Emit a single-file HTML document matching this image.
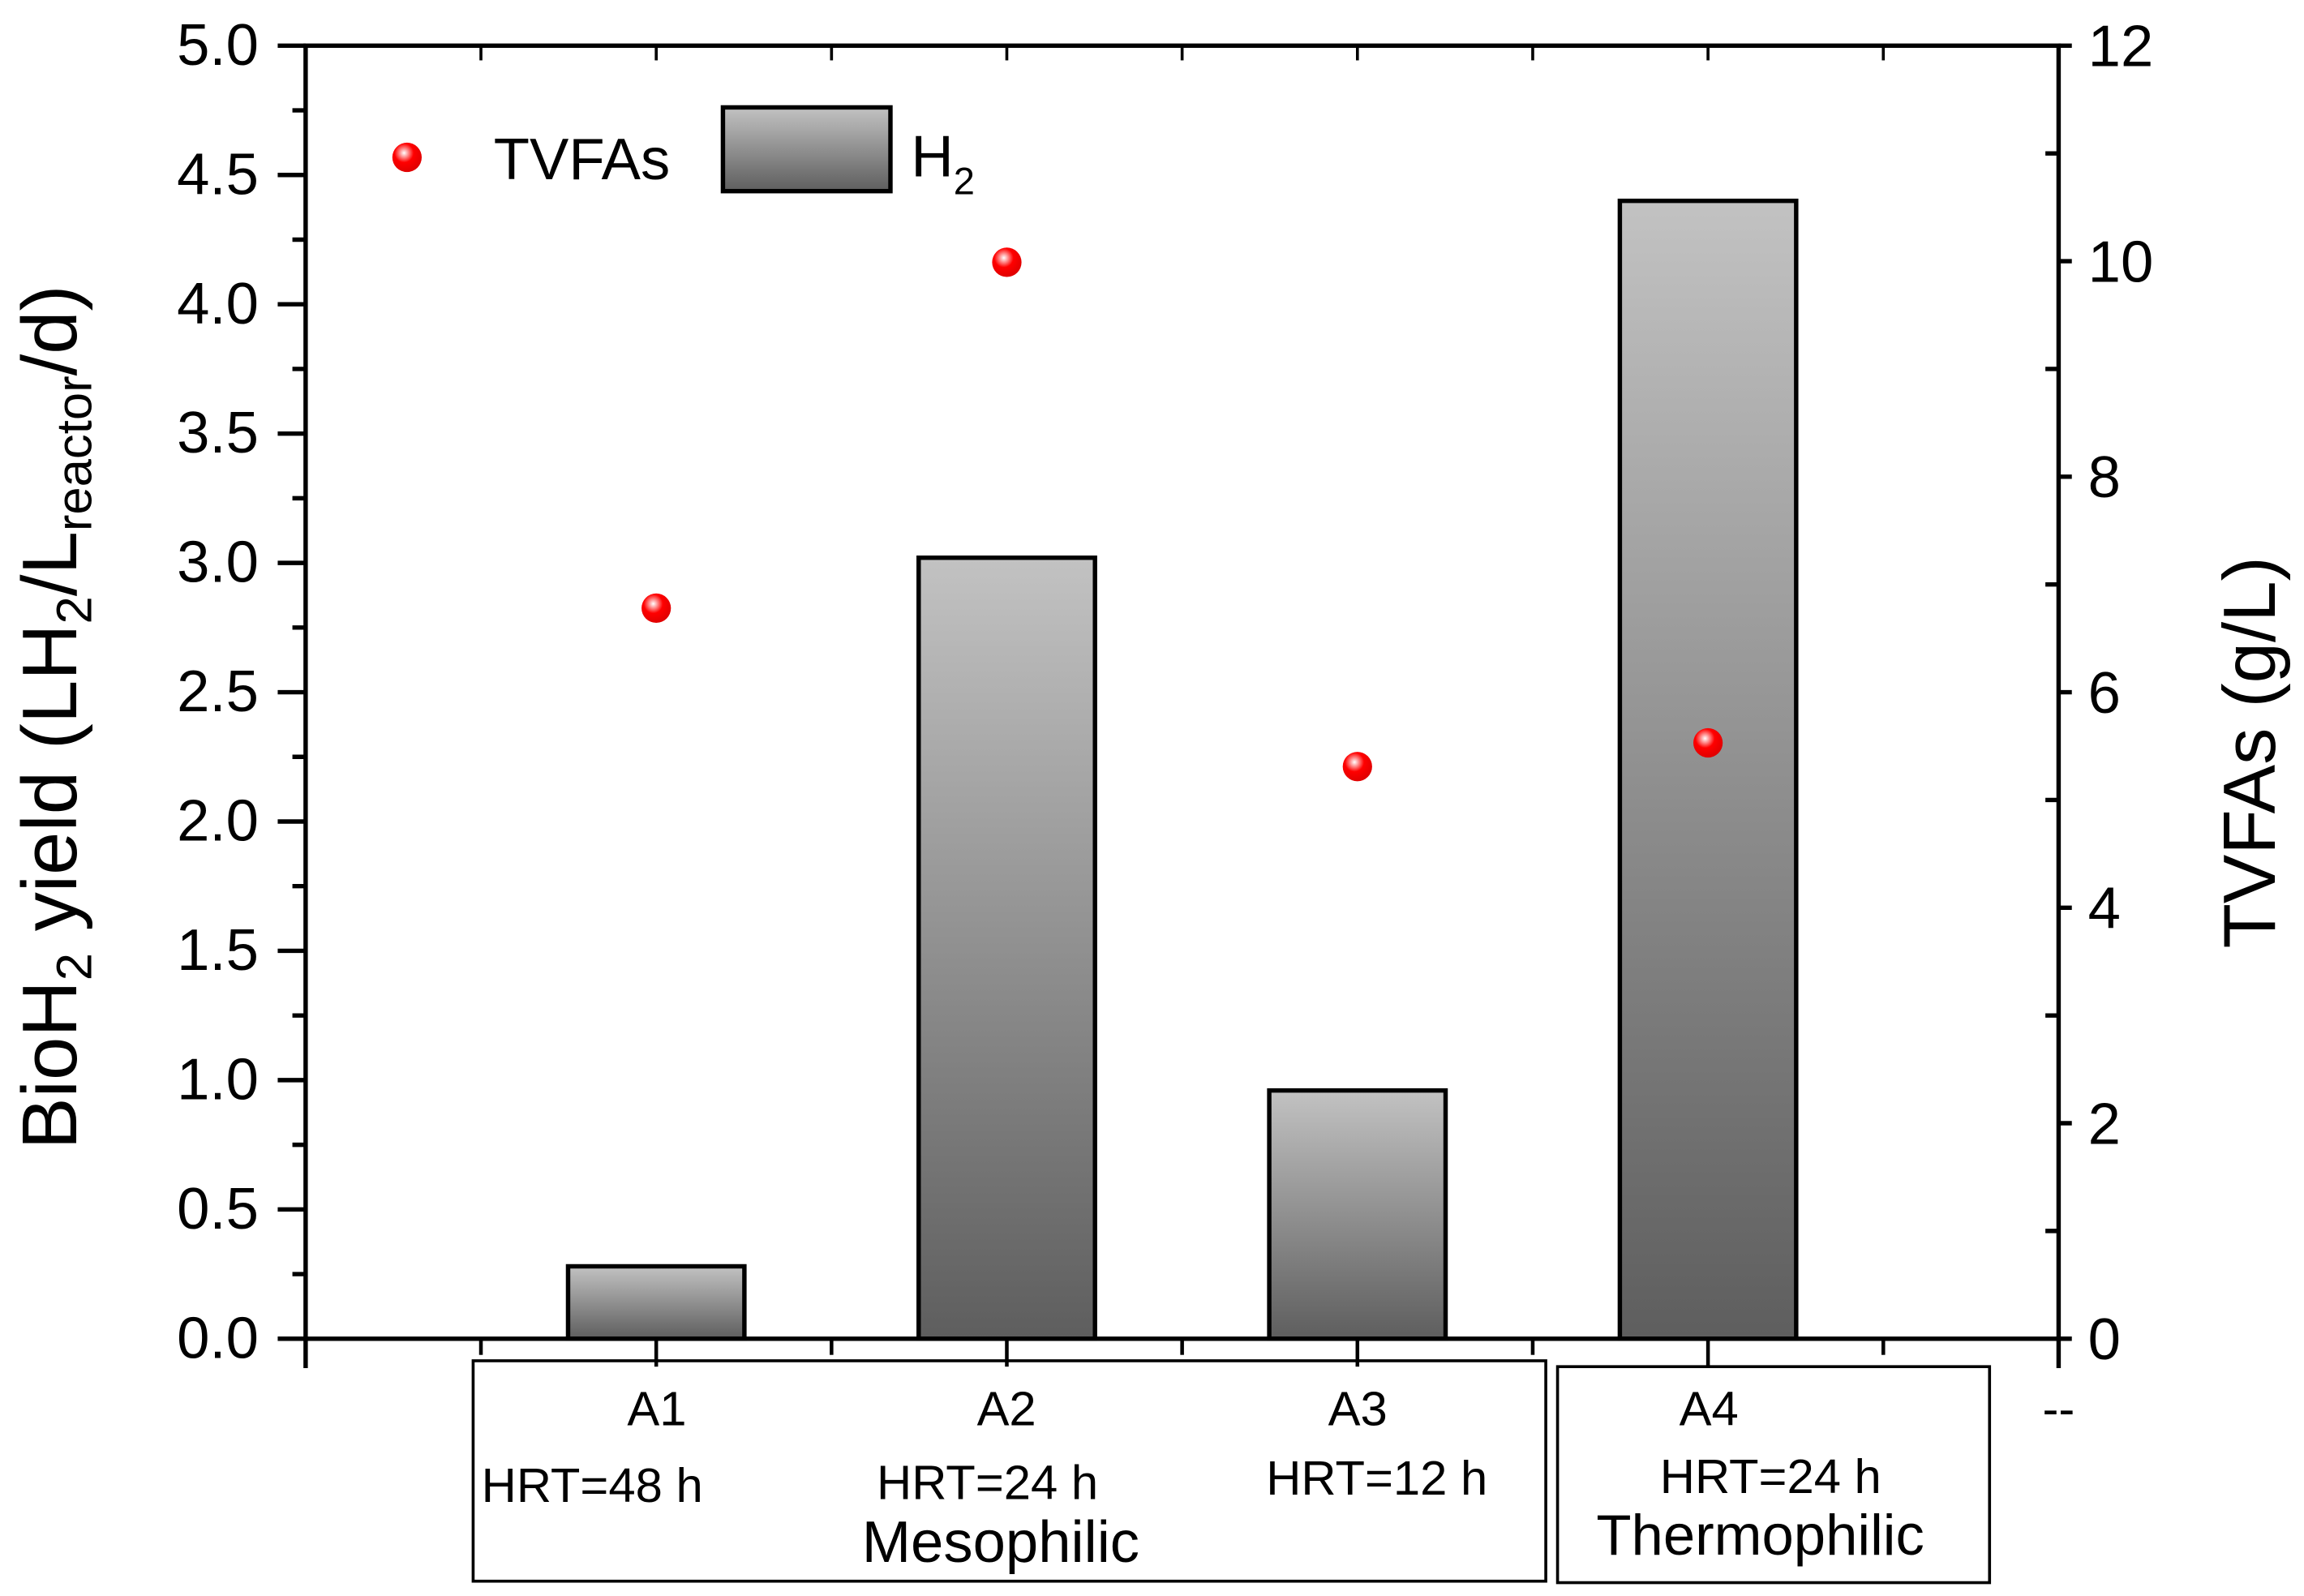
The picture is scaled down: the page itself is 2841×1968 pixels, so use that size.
<!DOCTYPE html>
<html><head><meta charset="utf-8"><style>
html,body{margin:0;padding:0;background:#fff}
svg{display:block}
text{font-family:"Liberation Sans",sans-serif;fill:#000}
</style></head><body>
<svg id="chart" width="2841" height="1968" viewBox="0 0 1568 1086" xmlns="http://www.w3.org/2000/svg">
<defs>
<linearGradient id="barGrad" x1="0" y1="0" x2="0" y2="1">
<stop offset="0" stop-color="#c2c2c2"/><stop offset="1" stop-color="#5e5e5e"/>
</linearGradient>
<radialGradient id="dotGrad" cx="0.4" cy="0.35" r="0.65">
<stop offset="0" stop-color="#fff"/><stop offset="0.2" stop-color="#ff9a9a"/><stop offset="0.5" stop-color="#ff0000"/><stop offset="1" stop-color="#e00000"/>
</radialGradient>
</defs>
<g id="marks"></g>
<g id="axes"></g>
<g>
<circle cx="277" cy="107" r="10" fill="url(#dotGrad)"/>
<text x="336" y="122" font-size="40">TVFAs</text>
<rect x="492" y="73" width="114" height="57" fill="url(#barGrad)" stroke="#000" stroke-width="3"/>
<text x="620" y="120" font-size="40">H<tspan font-size="26" dy="12">2</tspan></text>
</g>
<text transform="translate(52,488) rotate(-90)" text-anchor="middle" font-size="53">BioH<tspan font-size="34" dy="10">2</tspan><tspan dy="-10"> yield (LH</tspan><tspan font-size="34" dy="10">2</tspan><tspan dy="-10">/L</tspan><tspan font-size="34" dy="10">reactor</tspan><tspan dy="-10">/d)</tspan></text>
<text transform="translate(1548,512) rotate(-90)" text-anchor="middle" font-size="50">TVFAs (g/L)</text>
<g font-size="33">
<rect x="322" y="926" width="730" height="150" fill="none" stroke="#000" stroke-width="2"/>
<rect x="1060" y="930" width="294" height="147" fill="none" stroke="#000" stroke-width="2"/>
<text x="447" y="970" text-anchor="middle">A1</text>
<text x="685" y="970" text-anchor="middle">A2</text>
<text x="924" y="970" text-anchor="middle">A3</text>
<text x="1163" y="970" text-anchor="middle">A4</text>
<text x="403" y="1022" text-anchor="middle">HRT=48 h</text>
<text x="672" y="1020" text-anchor="middle">HRT=24 h</text>
<text x="937" y="1017" text-anchor="middle">HRT=12 h</text>
<text x="1205" y="1016" text-anchor="middle">HRT=24 h</text>
<text x="681" y="1063" text-anchor="middle" font-size="40">Mesophilic</text>
<text x="1198" y="1058" text-anchor="middle" font-size="39">Thermophilic</text>
<text x="1401" y="970" text-anchor="middle">--</text>
</g>
</svg>
<script>
const categories = ["A1","A2","A3","A4"];
const h2Values = [0.28, 3.02, 0.96, 4.40];
const tvfaValues = [6.78, 9.99, 5.31, 5.53];
const leftTicks = ["0.0","0.5","1.0","1.5","2.0","2.5","3.0","3.5","4.0","4.5","5.0"];
const rightTicks = ["0","2","4","6","8","10","12"];

const NS = "http://www.w3.org/2000/svg";
const L = 208, R = 1401, T = 31, B = 911;
const xScale = u => L + (R - L) * u / 5;
const yLeft = v => B - (B - T) * v / 5;
const yRight = v => B - (B - T) * v / 12;
function mk(tag, attrs, parent) {
  const e = document.createElementNS(NS, tag);
  for (const k in attrs) e.setAttribute(k, attrs[k]);
  parent.appendChild(e);
  return e;
}
const marks = document.getElementById("marks");
const axes = document.getElementById("axes");
const bw = 120;
categories.forEach((c, i) => {
  const cx = xScale(i + 1);
  const y = yLeft(h2Values[i]);
  const r = mk("rect", {x: cx - bw/2, y: y, width: bw, height: B - y, fill: "url(#barGrad)", stroke: "#000", "stroke-width": 3}, marks);
  
  
});
categories.forEach((c, i) => {
  const d = mk("circle", {cx: xScale(i + 1), cy: yRight(tvfaValues[i]), r: 10, fill: "url(#dotGrad)"}, marks);
  
  
});
const frame = mk("rect", {x: L, y: T, width: R - L, height: B - T, fill: "none", stroke: "#000", "stroke-width": 3}, axes);


for (let k = 0; k <= 20; k++) {
  const v = k * 0.25, y = yLeft(v), major = k % 2 === 0;
  mk("line", {x1: L - (major ? 19 : 9), x2: L, y1: y, y2: y, stroke: "#000", "stroke-width": 3}, axes);
  if (major) {
    const t = mk("text", {x: L - 32, y: y + 13, "text-anchor": "end", "font-size": 40}, axes);
    t.textContent = leftTicks[k / 2];
    
    
  }
}
for (let k = 0; k <= 12; k++) {
  const y = yRight(k), major = k % 2 === 0;
  if (major) mk("line", {x1: R, x2: R + 9, y1: y, y2: y, stroke: "#000", "stroke-width": 3}, axes);
  else mk("line", {x1: R - 9, x2: R, y1: y, y2: y, stroke: "#000", "stroke-width": 3}, axes);
  if (major) {
    const t = mk("text", {x: R + 20, y: y + 14, "text-anchor": "start", "font-size": 40}, axes);
    t.textContent = rightTicks[k / 2];
    
    
  }
}
mk("line", {x1: R, x2: R, y1: B, y2: 931, stroke: "#000", "stroke-width": 3}, axes);
mk("line", {x1: L, x2: L, y1: B, y2: 931, stroke: "#000", "stroke-width": 3}, axes);
for (let k = 0; k <= 10; k++) {
  const x = xScale(k / 2), major = k % 2 === 0;
  mk("line", {x1: x, x2: x, y1: B, y2: B + (major ? 19 : 11), stroke: "#000", "stroke-width": 2.5}, axes);
  if (k > 0 && k < 10) mk("line", {x1: x, x2: x, y1: T, y2: T + 10, stroke: "#000", "stroke-width": 2}, axes);
}
</script>
</body></html>
